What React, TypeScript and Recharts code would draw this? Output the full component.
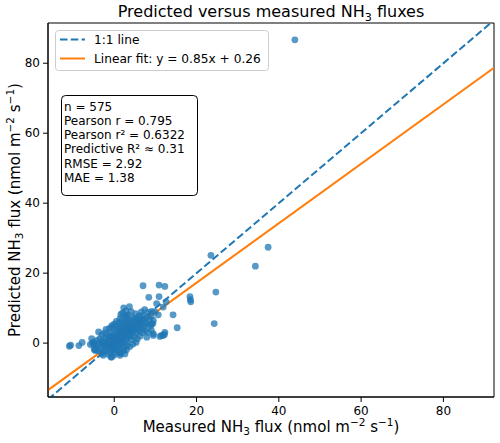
import { ScatterChart, Scatter, XAxis, YAxis, ReferenceLine, ReferenceArea } from "recharts";

const FONT = "'DejaVu Sans', sans-serif";
const BLUE = "#1f77b4";
const ORANGE = "#ff7f0e";
const DASH = "7.5 3.3";

const xDomain: [number, number] = [-16.1, 92.3];
const yDomain: [number, number] = [-15.4, 91.5];
const xTicks = [0, 20, 40, 60, 80];
const yTicks = [0, 20, 40, 60, 80];

const fitSlope = 0.85;
const fitIntercept = 0.26;

const stats = [
  "n = 575",
  "Pearson r = 0.795",
  "Pearson r² = 0.6322",
  "Predictive R² ≈ 0.31",
  "RMSE = 2.92",
  "MAE = 1.38",
];

// [measured, predicted] — sparse points away from the main cloud
const outerPoints: [number, number][] = [
  [43.9, 86.7], [37.4, 27.4], [34.3, 22.0], [23.5, 25.1], [24.7, 14.6], [24.3, 5.6],
  [18.4, 13.3], [18.5, 12.4], [18.6, 11.8], [14.3, 8.1], [15.3, 4.4], [7.0, 16.4],
  [10.9, 16.6], [12.3, 16.2], [8.4, 13.1], [10.9, 13.3], [12.6, 11.8], [-10.9, -0.9],
  [-10.6, -0.6], [-8.6, -0.7], [-7.8, 0.2], [-5.3, 0.0], [-4.5, -1.9], [-0.8, -4.0],
  [1.5, -2.9], [9.5, 2.7], [11.1, 1.9], [12.2, 2.5], [7.9, 1.7], [10.3, 11.3],
  [12.3, 3.1], [9.5, 2.2], [11.9, 2.2], [-5.5, 1.3], [-4.9, -1.6], [10.7, 8.1],
  [9.5, 6.5], [9.1, 9.1], [11.9, 10.3], [9.9, 8.9], [9.1, 5.5], [11.5, 2.2],
  [-4.9, -0.2], [-4.7, -2.1], [-2.7, -3.5], [1.4, -2.6], [-0.6, -4.0], [1.4, -3.5],
];

// [measured, predicted] — dense cloud near the origin
const corePoints: [number, number][] = [
  [2.0, 8.6], [2.8, 9.2], [3.4, 8.1], [4.1, 9.0], [5.2, 8.4], [6.0, 7.8], [3.0, 7.4],
  [1.4, 7.0], [4.6, 7.2], [6.6, 8.9], [7.4, 9.6], [8.2, 8.8], [2.3, 10.1], [3.7, 10.4],
  [0.5, 6.2], [1.1, 5.8], [1.9, 6.5], [2.6, 6.1], [3.3, 6.8], [4.0, 6.3], [4.8, 6.0],
  [5.5, 6.6], [6.3, 6.2], [7.1, 6.8], [7.8, 7.3], [8.5, 6.9], [0.0, 5.4], [-0.6, 5.0],
  [9.0, 7.6], [-1.2, 4.2], [-0.4, 4.6], [0.3, 4.1], [1.0, 4.8], [1.7, 4.3], [2.4, 4.9],
  [3.1, 4.4], [3.8, 5.0], [4.5, 4.5], [5.2, 5.1], [5.9, 4.6], [6.6, 5.3], [7.3, 4.8],
  [8.0, 5.5], [8.7, 4.9], [-2.0, 3.9], [9.4, 5.6], [-3.0, 2.4], [-2.3, 2.9], [-1.6, 2.2],
  [-0.9, 3.0], [-0.2, 2.5], [0.5, 3.1], [1.2, 2.6], [1.9, 3.2], [2.6, 2.7], [3.3, 3.3],
  [4.0, 2.8], [4.7, 3.4], [5.4, 2.9], [6.1, 3.5], [6.8, 3.0], [7.5, 3.6], [8.2, 3.1],
  [-3.8, 3.2], [9.0, 3.8], [-4.2, 0.8], [-3.5, 1.3], [-2.8, 0.6], [-2.1, 1.4], [-1.4, 0.7],
  [-0.7, 1.5], [0.0, 0.9], [0.7, 1.6], [1.4, 0.8], [2.1, 1.5], [2.8, 0.9], [3.5, 1.7],
  [4.2, 1.0], [4.9, 1.8], [5.6, 1.2], [6.3, 2.0], [-5.0, 0.3], [-3.1, 0.1], [0.3, 0.2],
  [1.8, 0.3], [3.0, 0.4], [-5.8, -0.4], [-4.6, -0.6], [-3.9, -0.2], [-3.2, -0.9], [-2.5, -0.3],
  [-1.8, -1.0], [-1.1, -0.4], [-0.4, -1.1], [0.3, -0.5], [1.0, -1.2], [1.7, -0.6], [2.4, -1.3],
  [3.1, -0.7], [3.8, -1.0], [4.5, -0.3], [5.3, 0.2], [-4.0, -2.2], [-3.3, -1.7], [-2.6, -2.4],
  [-1.9, -1.9], [-1.2, -2.6], [-0.5, -2.0], [0.2, -2.7], [0.9, -2.1], [1.6, -2.8], [2.3, -2.2],
  [3.0, -1.9], [-3.0, -3.0], [-1.5, -3.2], [0.0, -3.4], [2.6, -3.1], [0.6, 1.2], [1.3, 1.9],
  [2.2, 2.3], [0.9, 0.4], [-0.3, 0.0], [-1.0, -0.2], [1.5, 3.6], [2.9, 3.9], [3.6, 4.0],
  [4.4, 3.7], [2.0, 5.4], [3.2, 5.6], [4.2, 5.8], [5.0, 7.0], [-0.8, 1.9], [-1.7, -0.5],
  [0.4, -1.6], [1.1, 3.9], [5.7, 4.0], [6.9, 4.2], [7.6, 5.9], [2.7, 7.8], [1.6, 8.2],
  [-2.4, 0.2], [-0.1, -0.6], [0.8, 2.2], [1.6, 1.1], [2.5, 1.9], [3.4, 2.3], [0.1, 1.8],
  [-0.6, 0.6], [-1.3, 1.2], [-2.0, -0.6], [-0.2, -1.7], [1.2, -0.2], [2.0, 0.0], [4.0, 2.2],
  [3.0, 5.1], [4.9, 4.1], [5.8, 5.6], [1.7, 2.0], [-0.9, -1.4], [6.2, 7.2], [7.0, 7.9],
];

const points = [...outerPoints, ...corePoints].map(([x, y]) => ({ x, y }));

type Seg = { t: string; s?: "sub" | "sup" };

function RichText({ x, y, size, segs, rotate = false }: { x: number; y: number; size: number; segs: Seg[]; rotate?: boolean }) {
  let offset = 0;
  const spans = segs.map((sg, i) => {
    const target = sg.s === "sub" ? size * 0.22 : sg.s === "sup" ? -size * 0.38 : 0;
    const dy = target - offset;
    offset = target;
    return (
      <tspan key={i} dy={dy} fontSize={sg.s ? size * 0.7 : size}>
        {sg.t}
      </tspan>
    );
  });
  return (
    <text
      x={x}
      y={y}
      textAnchor="middle"
      fontFamily={FONT}
      fontSize={size}
      fill="#000"
      transform={rotate ? `rotate(-90 ${x} ${y})` : undefined}
    >
      {spans}
    </text>
  );
}

const unitSegs: Seg[] = [{ t: " flux (nmol m" }, { t: "−2", s: "sup" }, { t: " s" }, { t: "−1", s: "sup" }, { t: ")" }];

export default function App() {
  const tickStyle = { fontSize: 12, fill: "#000", fontFamily: FONT };
  return (
    <div style={{ position: "relative", width: 500, height: 443, background: "#fff" }}>
      <style>{"body{margin:0}"}</style>
      <ScatterChart width={500} height={443} margin={{ top: 23, right: 6, bottom: 0, left: 0 }}>
        <XAxis
          type="number"
          dataKey="x"
          domain={xDomain}
          ticks={xTicks}
          allowDataOverflow
          height={46}
          tick={tickStyle}
          tickSize={5}
          tickMargin={4}
          stroke="#000"
        />
        <YAxis
          type="number"
          dataKey="y"
          domain={yDomain}
          ticks={yTicks}
          allowDataOverflow
          width={48}
          tick={tickStyle}
          tickSize={5}
          tickMargin={3}
          stroke="#000"
        />
        <ReferenceArea x1={xDomain[0]} x2={xDomain[1]} y1={yDomain[0]} y2={yDomain[1]} fill="none" stroke="#000" strokeWidth={1} />
        <Scatter
          data={points}
          fill={BLUE}
          isAnimationActive={false}
          shape={(p: any) => <circle cx={p.cx} cy={p.cy} r={3.4} fill={BLUE} fillOpacity={0.75} />}
        />
        <ReferenceLine
          segment={[{ x: xDomain[0], y: xDomain[0] }, { x: xDomain[1], y: xDomain[1] }]}
          stroke={BLUE}
          strokeWidth={2}
          strokeDasharray={DASH}
          ifOverflow="hidden"
        />
        <ReferenceLine
          segment={[
            { x: xDomain[0], y: fitSlope * xDomain[0] + fitIntercept },
            { x: xDomain[1], y: fitSlope * xDomain[1] + fitIntercept },
          ]}
          stroke={ORANGE}
          strokeWidth={2}
          ifOverflow="hidden"
        />
      </ScatterChart>
      <svg width={500} height={443} style={{ position: "absolute", left: 0, top: 0, pointerEvents: "none" }}>
        <RichText x={271} y={17} size={16} segs={[{ t: "Predicted versus measured NH" }, { t: "3", s: "sub" }, { t: " fluxes" }]} />
        <RichText x={271} y={432} size={15} segs={[{ t: "Measured NH" }, { t: "3", s: "sub" }, ...unitSegs]} />
        <RichText x={20} y={210} size={15} rotate segs={[{ t: "Predicted NH" }, { t: "3", s: "sub" }, ...unitSegs]} />

        <rect x={55.5} y={30.5} width={213} height={40} rx={3} fill="#fff" fillOpacity={0.8} stroke="#ccc" />
        <line x1={60} y1={39.5} x2={85} y2={39.5} stroke={BLUE} strokeWidth={2} strokeDasharray={DASH} />
        <text x={94} y={44} fontFamily={FONT} fontSize={12.2} fill="#000">1:1 line</text>
        <line x1={60} y1={58.5} x2={85} y2={58.5} stroke={ORANGE} strokeWidth={2} />
        <text x={94} y={63} fontFamily={FONT} fontSize={12.2} fill="#000">{`Linear fit: y = ${fitSlope}x + ${fitIntercept}`}</text>

        <rect x={61.5} y={95.5} width={136} height={100} rx={4} fill="#fff" fillOpacity={0.85} stroke="#000" />
        {stats.map((s, i) => (
          <text key={s} x={64} y={110.5 + i * 14.3} fontFamily={FONT} fontSize={12} fill="#000">
            {s}
          </text>
        ))}
      </svg>
    </div>
  );
}
